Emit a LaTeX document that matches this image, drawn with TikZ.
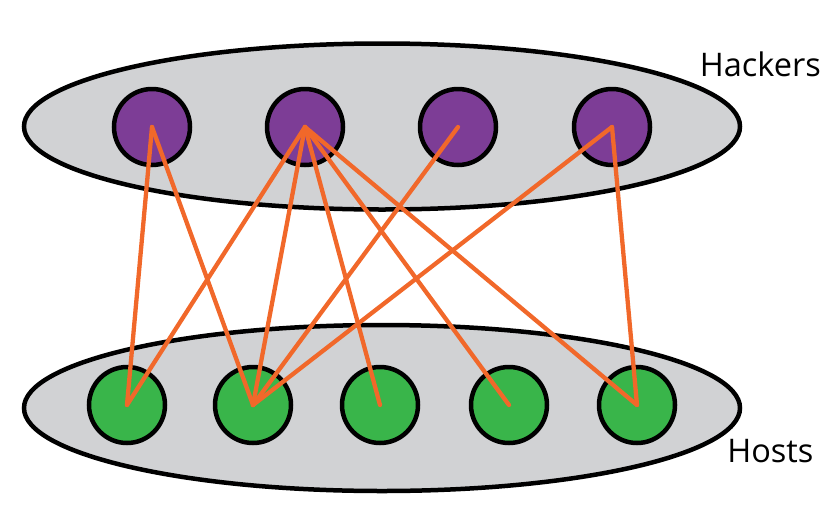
\documentclass[tikz,border=0pt]{standalone}
\usepackage{fontspec}
\setmainfont{Open Sans}
\usetikzlibrary{shapes.geometric}
\definecolor{groupgrey}{RGB}{209,210,212}
\definecolor{hackerpurple}{RGB}{125,61,150}
\definecolor{hostgreen}{RGB}{57,181,74}
\definecolor{linkorange}{RGB}{241,104,42}
\tikzset{
  group/.style={ellipse, draw=black, line width=4.5pt, fill=groupgrey, minimum width=716pt, minimum height=166pt, inner sep=0pt},
  hacker/.style={circle, draw=black, line width=4.5pt, fill=hackerpurple, minimum size=76pt, inner sep=0pt},
  host/.style={circle, draw=black, line width=4.5pt, fill=hostgreen, minimum size=76pt, inner sep=0pt},
  link/.style={draw=linkorange, line width=4.3pt, line cap=round, line join=round},
  label/.style={font=\fontsize{32.5}{33}\selectfont, inner sep=0pt, anchor=base}
}
\begin{document}
\begin{tikzpicture}[x=1pt,y=-1pt]
\useasboundingbox (0,0) rectangle (840,517);
\node[group] (G1) at (382,126.5) {};
\node[group] (G2) at (382,408) {};
\node[hacker] (a1) at (152,127) {};
\node[hacker] (a2) at (305,127) {};
\node[hacker] (a3) at (458,127) {};
\node[hacker] (a4) at (612,127) {};
\node[host] (b1) at (127,405) {};
\node[host] (b2) at (253,405) {};
\node[host] (b3) at (380,405) {};
\node[host] (b4) at (509,405) {};
\node[host] (b5) at (637,405) {};
\draw[link] (a1.center) -- (b1.center);
\draw[link] (a1.center) -- (b2.center);
\draw[link] (a2.center) -- (b1.center);
\draw[link] (a2.center) -- (b2.center);
\draw[link] (a2.center) -- (b3.center);
\draw[link] (a2.center) -- (b4.center);
\draw[link] (a2.center) -- (b5.center);
\draw[link] (a3.center) -- (b2.center);
\draw[link] (a4.center) -- (b2.center);
\draw[link] (a4.center) -- (b5.center);
\node[label] (lh) at (760.4,76) {Hackers};
\node[label] (ls) at (770.3,462.7) {Hosts};
\end{tikzpicture}
\end{document}
